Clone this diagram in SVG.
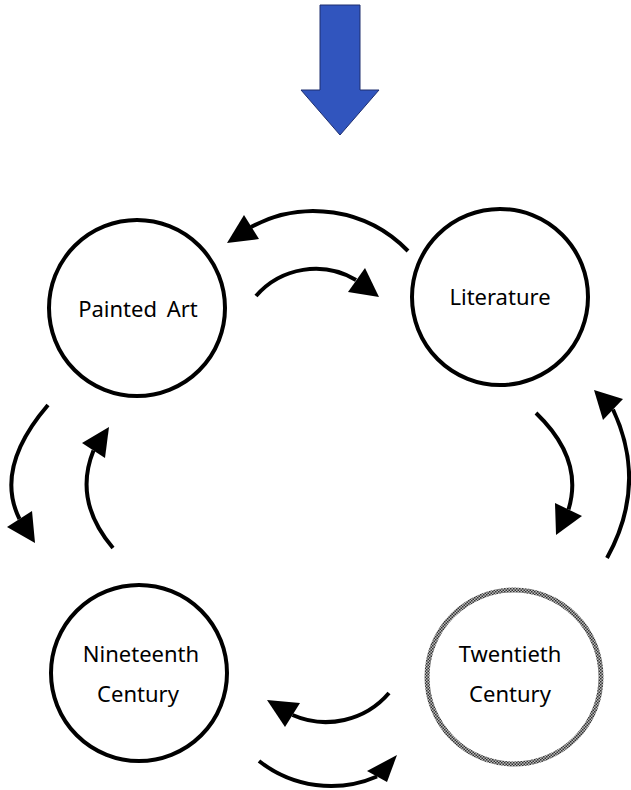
<svg xmlns="http://www.w3.org/2000/svg" width="631" height="790" viewBox="0 0 631 790">
<style>
.node{fill:#fff;stroke:#000;stroke-width:4}
.lbl{font-family:"Noto Sans","DejaVu Sans",sans-serif;font-size:22px;fill:#000;text-anchor:middle}
.arc{fill:none;stroke:#000;stroke-width:4}
.head{fill:#000}
</style>
<defs>
<pattern id="checker" width="3" height="3" patternUnits="userSpaceOnUse">
<rect width="3" height="3" fill="#bbb"/>
<rect width="1.5" height="1.5" fill="#333"/>
<rect x="1.5" y="1.5" width="1.5" height="1.5" fill="#333"/>
</pattern>
</defs>
<g id="topArrow">
<polygon points="320,5 360,5 360,90 379,90 340,135 301,90 320,90" fill="#3155BE" stroke="#1f2f6f" stroke-width="1"/>
</g>
<g id="paintedArt">
<circle class="node" cx="137" cy="308" r="88"/>
<text class="lbl" x="138" y="317" word-spacing="4">Painted Art</text>
</g>
<g id="literature">
<circle class="node" cx="500" cy="297" r="88"/>
<text class="lbl" x="500" y="305">Literature</text>
</g>
<g id="nineteenthCentury">
<circle class="node" cx="139" cy="673" r="88"/>
<text class="lbl" x="141" y="662">Nineteenth</text>
<text class="lbl" x="138" y="702">Century</text>
</g>
<g id="twentiethCentury">
<circle cx="514" cy="677" r="87" fill="#fff" stroke="url(#checker)" stroke-width="5"/>
<text class="lbl" x="510" y="662">Twentieth</text>
<text class="lbl" x="510" y="702">Century</text>
</g>
<g id="connectors">
<path class="arc" d="M408,251 A131,131 0 0 0 251,227"/>
<polygon class="head" points="227,243 244,215 259,239"/>
<path class="arc" d="M256,296 A79,79 0 0 1 356,280"/>
<polygon class="head" points="379,297 365,268 348,292"/>
<path class="arc" d="M48,405 Q-6,468 19.5,519"/>
<polygon class="head" points="35,543 7,527 32,511"/>
<path class="arc" d="M113,548 Q73,501 93.5,450.5"/>
<polygon class="head" points="109,427 82,443 105,458"/>
<path class="arc" d="M536,413 Q584,459 568.5,509.5"/>
<polygon class="head" points="556,535 555,503 582,516"/>
<path class="arc" d="M607,558 Q648,484 613,409.5"/>
<polygon class="head" points="594,390 623,399 603,420"/>
<path class="arc" d="M389,693 A83,83 0 0 1 292.5,715"/>
<polygon class="head" points="267,700 300,703 285,727"/>
<path class="arc" d="M259,761 A116,116 0 0 0 377,776.5"/>
<polygon class="head" points="397,755 367,771 387,782"/>
</g>
</svg>
